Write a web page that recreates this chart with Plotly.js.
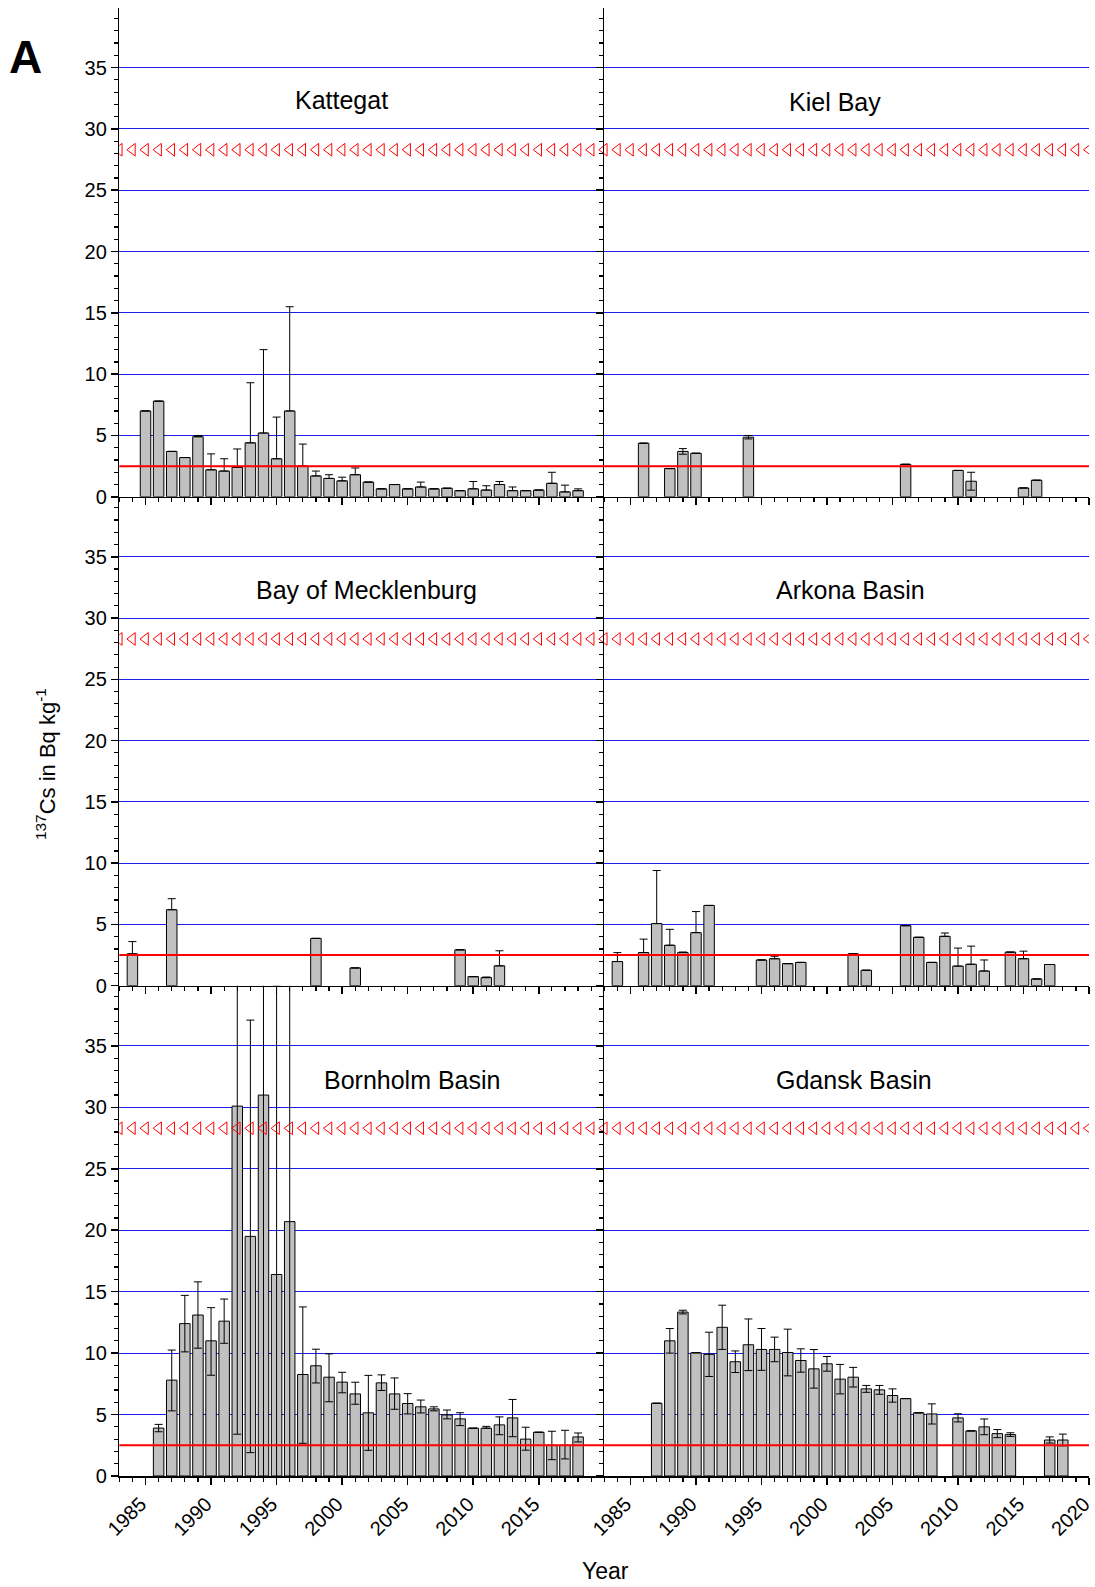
<!DOCTYPE html>
<html>
<head>
<meta charset="utf-8">
<script src="https://cdn.plot.ly/plotly-3.0.1.min.js"></script>
<style>html,body{margin:0;padding:0;background:#fff}#chart{width:1095px;height:1587px}</style>
</head>
<body>
<div id="chart"></div>
<script>
// ---- data ----
const kattegatYears = [1985,1986,1987,1988,1989,1990,1991,1992,1993,1994,1995,1996,1997,1998,1999,2000,2001,2002,2003,2004,2005,2006,2007,2008,2009,2010,2011,2012,2013,2014,2015,2016,2017,2018];
const kattegatVals  = [7.0,7.8,3.7,3.2,4.9,2.2,2.1,2.4,4.4,5.2,3.1,7.0,2.5,1.7,1.5,1.3,1.8,1.2,0.65,1.0,0.65,0.8,0.65,0.7,0.5,0.65,0.55,1.0,0.5,0.5,0.55,1.1,0.4,0.5];
const kattegatErrUp = [0,0,0,0,0.1,1.3,1.0,1.5,4.9,6.8,3.4,8.5,1.8,0.4,0.3,0.3,0.55,0,0,0,0,0.4,0,0,0,0.6,0.35,0.25,0.3,0,0,0.9,0.55,0.15];
const kattegatErrDn = [0,0,0,0,0,0,0,0,0,0,0,0,0,0,0,0,0,0,0,0,0,0,0,0,0,0,0,0,0,0,0,0,0,0];

const kielYears = [1986,1988,1989,1990,1994,2006,2010,2011,2015,2016];
const kielVals  = [4.37,2.3,3.7,3.55,4.86,2.65,2.15,1.27,0.72,1.35];
const kielErrUp = [0,0,0.23,0,0.14,0,0,0.73,0,0];
const kielErrDn = [0,0,0.23,0,0.14,0,0,0.73,0,0];

const meckYears = [1984,1987,1998,2001,2009,2010,2011,2012];
const meckVals  = [2.6,6.2,3.86,1.45,2.93,0.74,0.66,1.62];
const meckErrUp = [1.0,0.9,0,0,0,0,0.05,1.23];
const meckErrDn = [0,0,0,0,0,0,0,0];

const arkonaYears = [1984,1986,1987,1988,1989,1990,1991,1995,1996,1997,1998,2002,2003,2006,2007,2008,2009,2010,2011,2012,2014,2015,2016,2017];
const arkonaVals  = [1.97,2.7,5.07,3.3,2.7,4.33,6.55,2.1,2.2,1.8,1.9,2.6,1.26,4.9,3.95,1.9,4.03,1.6,1.75,1.2,2.74,2.2,0.55,1.73];
const arkonaErrUp = [0.73,1.1,4.33,1.3,0.05,1.72,0,0,0.2,0,0,0,0,0,0,0,0.27,1.47,1.48,0.9,0,0.62,0,0];
const arkonaErrDn = [0,0,0,0,0,0,0,0,0,0,0,0,0,0,0,0,0,0,0,0,0,0,0,0];

const bornholmYears = [1986,1987,1988,1989,1990,1991,1992,1993,1994,1995,1996,1997,1998,1999,2000,2001,2002,2003,2004,2005,2006,2007,2008,2009,2010,2011,2012,2013,2014,2015,2016,2017,2018];
const bornholmVals  = [3.9,7.8,12.4,13.1,11.0,12.6,30.1,19.5,31.0,16.4,20.7,8.26,8.97,8.04,7.64,6.68,5.14,7.58,6.68,5.9,5.63,5.46,4.97,4.65,3.89,3.89,4.16,4.73,3.0,3.56,2.5,2.5,3.18];
const bornholmErrUp = [0.3,2.45,2.3,2.7,2.7,1.8,26.7,17.6,33,23.5,26,5.5,1.35,1.9,0.8,0.95,3.05,0.65,1.3,0.8,0.55,0.17,0.4,0.5,0,0.15,0.65,1.5,0.97,0,1.14,1.22,0.32];
const bornholmErrDn = [0.3,2.5,2.3,2.7,2.8,1.8,26.7,17.6,33,23.5,26,5.6,1.4,2.0,0.87,0.84,3.05,0.62,1.25,0.85,0.5,0.16,0.32,0.55,0,0,0.8,1.53,0.9,0,1.17,1.11,0.41];

const gdanskYears = [1987,1988,1989,1990,1991,1992,1993,1994,1995,1996,1997,1998,1999,2000,2001,2002,2003,2004,2005,2006,2007,2008,2010,2011,2012,2013,2014,2017,2018];
const gdanskVals  = [5.92,11.0,13.34,10.03,9.9,12.1,9.3,10.68,10.3,10.3,10.05,9.4,8.72,9.13,7.88,8.04,7.09,7.01,6.55,6.3,5.14,5.05,4.73,3.67,4.0,3.45,3.37,2.93,2.93];
const gdanskErrUp = [0,1.0,0.15,0,1.8,1.8,0.88,2.1,1.7,1.0,1.9,0.95,1.57,0.6,1.2,0.8,0.28,0.36,0.54,0,0,0.82,0.33,0,0.64,0.33,0.15,0.25,0.48];
const gdanskErrDn = [0,1.0,0.15,0,1.8,1.8,0.88,2.1,1.7,1.0,1.9,0.95,1.57,0.6,1.2,0.8,0.28,0.36,0.54,0,0,0.82,0.33,0,0.64,0.33,0.15,0.25,0.48];

const panelNames = ["Kattegat","Kiel Bay","Bay of Mecklenburg","Arkona Basin","Bornholm Basin","Gdansk Basin"];
const refLowValue = 2.5;     // red line
const refHighValue = 28.3;   // red triangles
const refYears = [1983,1984,1985,1986,1987,1988,1989,1990,1991,1992,1993,1994,1995,1996,1997,1998,1999,2000,2001,2002,2003,2004,2005,2006,2007,2008,2009,2010,2011,2012,2013,2014,2015,2016,2017,2018,2019,2020];
const leftTickVals = [1985,1990,1995,2000,2005,2010,2015];
const rightTickVals = [1985,1990,1995,2000,2005,2010,2015,2020];
const yTickVals = [0,5,10,15,20,25,30,35];
const xAxisTitle = "Year";
const yAxisTitle = "<sup>137</sup>Cs in Bq kg<sup>-1</sup>";
const panelLetter = "A";

// ---- layout helpers ----
const W = 1095, H = 1587;
const px = v => v / W;
const py = v => 1 - v / H;
const FONT = "Liberation Sans, Arial, sans-serif";

const panels = [
  {years: kattegatYears, vals: kattegatVals, up: kattegatErrUp, dn: kattegatErrDn, col: 0, row: 0, tx: 341, ty: 100},
  {years: kielYears, vals: kielVals, up: kielErrUp, dn: kielErrDn, col: 1, row: 0, tx: 835, ty: 102},
  {years: meckYears, vals: meckVals, up: meckErrUp, dn: meckErrDn, col: 0, row: 1, tx: 366, ty: 590},
  {years: arkonaYears, vals: arkonaVals, up: arkonaErrUp, dn: arkonaErrDn, col: 1, row: 1, tx: 850, ty: 590},
  {years: bornholmYears, vals: bornholmVals, up: bornholmErrUp, dn: bornholmErrDn, col: 0, row: 2, tx: 412, ty: 1080},
  {years: gdanskYears, vals: gdanskVals, up: gdanskErrUp, dn: gdanskErrDn, col: 1, row: 2, tx: 854, ty: 1080}
];

const xDomains = [[px(119.3), px(604.3)], [px(604.3), px(1089)]];
const rowEdges = [7.5, 496.8, 985.7, 1476];
const yDomains = [0,1,2].map(r => [py(rowEdges[r+1]), py(rowEdges[r])]);

const data = [];
const layout = {
  width: W, height: H,
  margin: {l: 0, r: 0, t: 0, b: 0, pad: 0},
  paper_bgcolor: "#fff", plot_bgcolor: "rgba(0,0,0,0)",
  showlegend: false,
  font: {family: FONT, size: 20, color: "#000"},
  bargap: 0.2,
  shapes: [],
  annotations: []
};

panels.forEach((p, i) => {
  const n = i + 1;
  const xa = n === 1 ? "x" : "x" + n;
  const ya = n === 1 ? "y" : "y" + n;
  const xKey = n === 1 ? "xaxis" : "xaxis" + n;
  const yKey = n === 1 ? "yaxis" : "yaxis" + n;
  const bottom = p.row === 2;
  const left = p.col === 0;

  data.push({
    type: "bar", x: p.years, y: p.vals, xaxis: xa, yaxis: ya, width: 0.8,
    marker: {color: "rgb(192,192,192)", line: {color: "#000", width: 1}},
    error_y: {type: "data", symmetric: false, array: p.up, arrayminus: p.dn,
              color: "#000", thickness: 1, width: 4},
    hoverinfo: "skip"
  });
  data.push({
    type: "scatter", mode: "markers", x: refYears, y: refYears.map(() => refHighValue),
    xaxis: xa, yaxis: ya, cliponaxis: true,
    marker: {symbol: "triangle-left-open", size: 11, color: "rgb(255,0,0)", line: {width: 1, color: "rgb(255,0,0)"}},
    hoverinfo: "skip"
  });

  const tv = left ? leftTickVals : rightTickVals;
  layout[xKey] = {
    domain: xDomains[p.col], anchor: ya, range: [1983, 2020],
    tickmode: "array", tickvals: tv, ticktext: tv.map(String),
    ticks: "outside", ticklen: 7, tickwidth: 1.5, tickcolor: "#000",
    minor: {tickmode: "linear", tick0: 1983, dtick: 1, ticks: "outside", ticklen: 4, tickwidth: 1.2, tickcolor: "#000", showgrid: false},
    showline: true, linecolor: "#000", linewidth: 1.5,
    showgrid: false, zeroline: false, automargin: false,
    ticklabeloverflow: "allow", ticklabelshift: -5,
    showticklabels: bottom, tickangle: -45, tickfont: {family: FONT, size: 20, color: "#000"}
  };
  layout[yKey] = {
    domain: yDomains[p.row], anchor: xa, range: [0, 39.9],
    tickmode: "array", tickvals: yTickVals, ticktext: yTickVals.map(String),
    ticks: "outside", ticklen: 7, tickwidth: 1.5, tickcolor: "#000",
    minor: {tickmode: "linear", tick0: 0, dtick: 1, ticks: "outside", ticklen: 4, tickwidth: 1.2, tickcolor: "#000", showgrid: false},
    showline: true, linecolor: "#000", linewidth: 1.5,
    showgrid: true, gridcolor: "rgb(30,30,235)", gridwidth: 1,
    zeroline: false, automargin: false,
    showticklabels: left, tickfont: {family: FONT, size: 20, color: "#000"}
  };

  layout.shapes.push({
    type: "line", xref: xa + " domain", yref: ya, x0: 0, x1: 1, y0: refLowValue, y1: refLowValue,
    line: {color: "rgb(255,0,0)", width: 2}, layer: "above"
  });

  layout.annotations.push({
    text: panelNames[i], xref: "paper", yref: "paper", x: px(p.tx), y: py(p.ty),
    xanchor: "center", yanchor: "middle", showarrow: false,
    font: {family: FONT, size: 25, color: "#000"}
  });
});

layout.annotations.push({
  text: panelLetter, xref: "paper", yref: "paper", x: px(25), y: py(57),
  xanchor: "center", yanchor: "middle", showarrow: false,
  font: {family: FONT, size: 46, color: "#000", weight: "bold"}
});
layout.annotations.push({
  text: yAxisTitle, xref: "paper", yref: "paper", x: px(46), y: py(764),
  xanchor: "center", yanchor: "middle", showarrow: false, textangle: -90,
  font: {family: FONT, size: 22, color: "#000"}
});
layout.annotations.push({
  text: xAxisTitle, xref: "paper", yref: "paper", x: px(606), y: py(1571),
  xanchor: "center", yanchor: "middle", showarrow: false,
  font: {family: FONT, size: 23, color: "#000"}
});

Plotly.newPlot("chart", data, layout, {staticPlot: true, displayModeBar: false});
</script>
</body>
</html>
